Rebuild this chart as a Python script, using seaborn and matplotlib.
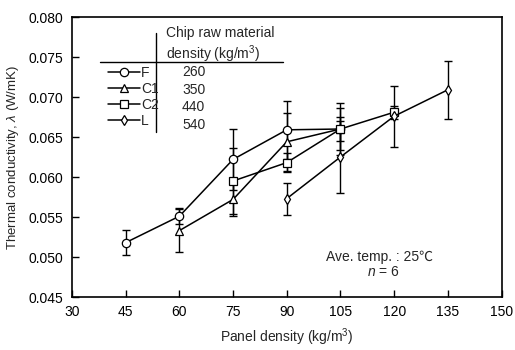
import numpy as np
import pandas as pd
import matplotlib
matplotlib.use("Agg")
import matplotlib.pyplot as plt
import seaborn as sns

# ---- data ----
series_names = ["F", "C1", "C2", "L"]
chip_density = ["260", "350", "440", "540"]

F_x = [45, 60, 75, 90, 105]
F_y = [0.0518, 0.0551, 0.0622, 0.0659, 0.0660]
F_err = [0.0016, 0.0010, 0.0038, 0.0036, 0.0032]

C1_x = [60, 75, 90, 105]
C1_y = [0.0533, 0.0572, 0.0644, 0.0660]
C1_err = [0.0027, 0.0021, 0.0036, 0.0026]

C2_x = [75, 90, 105, 120]
C2_y = [0.0595, 0.0618, 0.0660, 0.0681]
C2_err = [0.0041, 0.0012, 0.0015, 0.0008]

L_x = [90, 105, 120, 135]
L_y = [0.0573, 0.0625, 0.0676, 0.0709]
L_err = [0.0020, 0.0045, 0.0038, 0.0036]

xs = [F_x, C1_x, C2_x, L_x]
ys = [F_y, C1_y, C2_y, L_y]
errs = [F_err, C1_err, C2_err, L_err]
markers = ["o", "^", "s", "d"]
msizes = [6, 5.5, 5.5, 5.5]

x_ticks = [30, 45, 60, 75, 90, 105, 120, 135, 150]
y_ticks = [0.045, 0.050, 0.055, 0.060, 0.065, 0.070, 0.075, 0.080]

# ---- plot ----
sns.set_theme(style="ticks")
plt.rcParams["font.family"] = ["Liberation Sans", "DejaVu Sans"]
plt.rcParams["mathtext.fontset"] = "custom"
plt.rcParams["mathtext.it"] = "Liberation Sans:italic"
plt.rcParams["mathtext.rm"] = "Liberation Sans"

fig = plt.figure(figsize=(5.15, 3.5), dpi=100)
ax = fig.add_axes([0.1398, 0.1514, 0.8340, 0.8000])

handles = []
for name, x, y, e, m, ms in zip(series_names, xs, ys, errs, markers, msizes):
    df = pd.DataFrame({"x": x, "y": y})
    ax.errorbar(x, y, yerr=e, fmt="none", ecolor="black", elinewidth=1.0,
                capsize=3, capthick=1.0, zorder=2)
    sns.lineplot(data=df, x="x", y="y", ax=ax, color="black", linewidth=1.1,
                 marker=m, markersize=ms,
                 markerfacecolor="white", markeredgecolor="black",
                 markeredgewidth=0.9, label=name, legend=False, zorder=3)
    handles.append(ax.get_lines()[-1])

ax.set_xlim(30, 150)
ax.set_ylim(0.045, 0.080)
ax.set_xticks(x_ticks)
ax.set_yticks(y_ticks)
ax.set_yticklabels([f"{v:.3f}" for v in y_ticks])
ax.tick_params(direction="in", length=5, width=1.0, labelsize=10, colors="black",
               pad=6)
for s in ax.spines.values():
    s.set_color("black")
    s.set_linewidth(1.2)

ax.set_xlabel("Panel density (kg/m$^3$)", fontsize=10, labelpad=5)
ax.set_ylabel(r"Thermal conductivity, $\lambda$ (W/mK)", fontsize=9.5, labelpad=6)

# legend (table style)
leg = ax.legend(handles=handles, labels=series_names, loc="upper left",
                bbox_to_anchor=(0.083, 0.825), frameon=False, fontsize=10,
                handlelength=2.3, handletextpad=0.1, labelspacing=0.15,
                borderpad=0, borderaxespad=0)

ax.text(0.219, 0.943, "Chip raw material", transform=ax.transAxes,
        fontsize=10, va="center", ha="left")
ax.text(0.219, 0.868, "density (kg/m$^3$)", transform=ax.transAxes,
        fontsize=10, va="center", ha="left")
ax.plot([0.065, 0.492], [0.839, 0.839], transform=ax.transAxes,
        color="black", lw=1.0, clip_on=False)
ax.plot([0.196, 0.196], [0.943, 0.589], transform=ax.transAxes,
        color="black", lw=1.0, clip_on=False)
row_y = [0.804, 0.740, 0.677, 0.614]
for ry, d in zip(row_y, chip_density):
    ax.text(0.256, ry, d, transform=ax.transAxes, fontsize=10,
            va="center", ha="left")

ax.text(0.715, 0.143, "Ave. temp. : 25\u2103", transform=ax.transAxes,
        fontsize=10, va="center", ha="center",
        family=["Liberation Sans", "Noto Sans CJK JP", "DejaVu Sans"])
ax.text(0.725, 0.089, "$n$ = 6", transform=ax.transAxes,
        fontsize=10, va="center", ha="center")

fig.savefig("out.png", dpi=100, facecolor="white")
